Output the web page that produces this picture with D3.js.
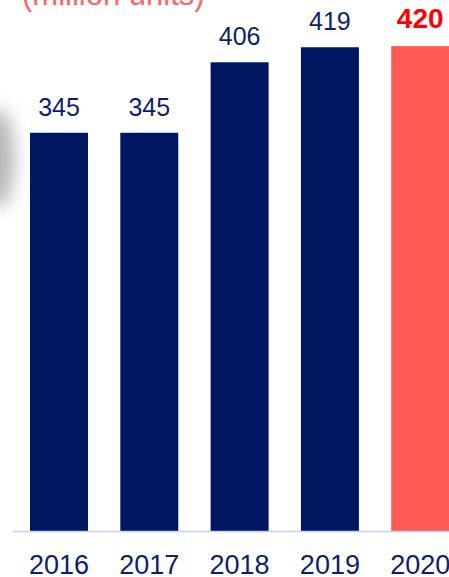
<!DOCTYPE html>
<html>
<head>
<meta charset="utf-8">
<script src="https://cdn.jsdelivr.net/npm/d3@7"></script>
<style>
html,body{margin:0;padding:0;background:#fff;overflow:hidden;}
svg{display:block;font-family:"Liberation Sans",Arial,sans-serif;}
</style>
</head>
<body>
<svg id="chart" width="449" height="577"></svg>
<script>
const years = ["2016","2017","2018","2019","2020"];
const values = [345, 345, 406, 419, 420];
const highlight = [false, false, false, false, true];
const unitLabel = "(million units)";

const svg = d3.select("#chart");
const baseY = 531.5;

const defs = svg.append("defs");
const f = defs.append("filter").attr("id","blur").attr("x","-100%").attr("y","-100%").attr("width","300%").attr("height","300%");
f.append("feGaussianBlur").attr("stdDeviation", 9);

// gray shadow on the left edge
svg.append("ellipse")
  .attr("cx", -2).attr("cy", 158).attr("rx", 16).attr("ry", 50)
  .attr("fill", "#b4b4b4").attr("filter", "url(#blur)");

const x = d3.scaleBand().domain(years).range([30, 449.2]).paddingInner(0.358).paddingOuter(0);
const y = d3.scaleLinear().domain([0, 420]).range([baseY, 46.1]);

// unit label (clipped at top, as in the reference)
svg.append("text")
  .attr("x", 22).attr("y", 5)
  .attr("font-size", 31)
  .attr("fill", "#ff6464")
  .text(unitLabel);

const data = years.map((yr, i) => ({yr, v: values[i], hi: highlight[i]}));

svg.selectAll("rect.bar").data(data).enter().append("rect")
  .attr("class","bar")
  .attr("x", d => x(d.yr))
  .attr("y", d => y(d.v))
  .attr("width", x.bandwidth())
  .attr("height", d => baseY - y(d.v))
  .attr("fill", d => d.hi ? "#ff5a55" : "#001660");

// baseline
svg.append("line")
  .attr("x1", 13).attr("x2", 449)
  .attr("y1", baseY).attr("y2", baseY)
  .attr("stroke", "#c3cff7").attr("stroke-width", 1.5);

// value labels
svg.selectAll("text.val").data(data).enter().append("text")
  .attr("class","val")
  .attr("x", d => x(d.yr) + x.bandwidth()/2)
  .attr("y", d => y(d.v) - (d.hi ? 18 : 17))
  .attr("text-anchor","middle")
  .attr("font-size", d => d.hi ? 28 : 25)
  .attr("font-weight", d => d.hi ? "bold" : "normal")
  .attr("fill", d => d.hi ? "#ff0000" : "#0d1f6b")
  .text(d => d.v);

// x axis labels
const xAxis = d3.axisBottom(x).tickSize(0).tickPadding(0);
const g = svg.append("g").attr("transform", `translate(0,${baseY})`).call(xAxis);
g.select(".domain").remove();
g.selectAll("text")
  .attr("dy", null)
  .attr("y", 42)
  .attr("font-size", 27)
  .attr("font-family", "'Liberation Sans',Arial,sans-serif")
  .attr("fill", "#0d1f6b");
</script>
</body>
</html>
